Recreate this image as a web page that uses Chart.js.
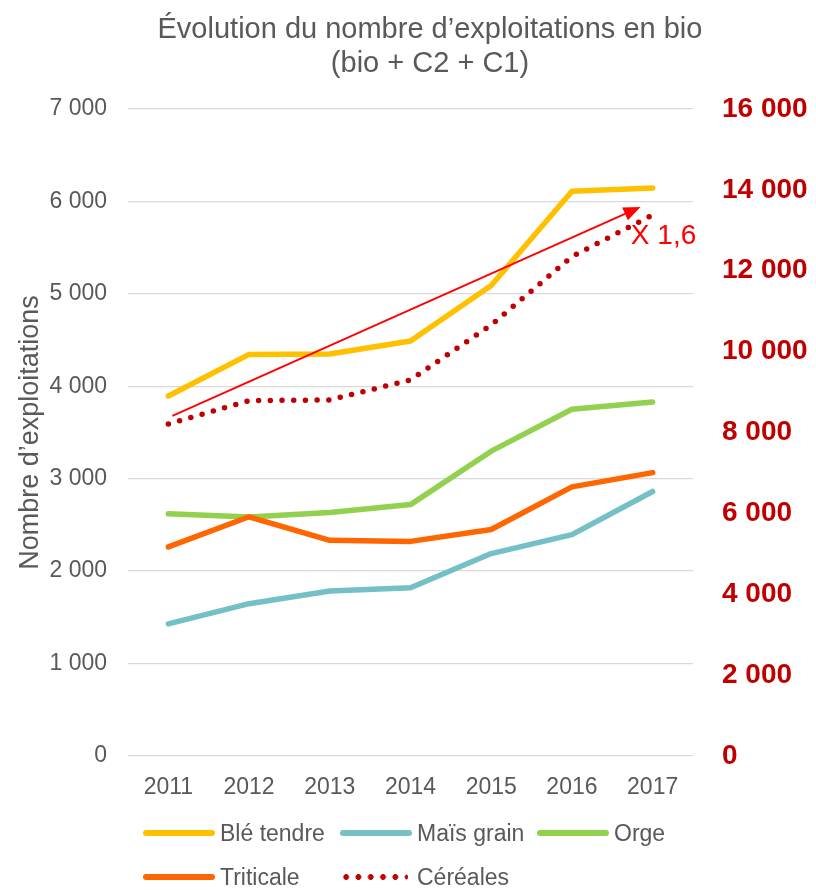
<!DOCTYPE html>
<html>
<head>
<meta charset="utf-8">
<script src="https://cdn.jsdelivr.net/npm/chart.js@4.4.1/dist/chart.umd.min.js"></script>
<style>
  html, body { margin: 0; padding: 0; background: #fff; overflow: hidden; }
  #wrap { position: relative; width: 816px; height: 890px; font-family: "Liberation Sans", Arial, sans-serif; }
  #chart { position: absolute; left: 0; top: 0; }
  #title { position: absolute; left: 30px; top: 11px; width: 800px; text-align: center;
           font-size: 29px; line-height: 34px; color: #595959; }
  #legend { position: absolute; left: 143px; top: 811px; width: 620px; display: grid;
            grid-template-columns: 197px 197px 197px; grid-auto-rows: 44px; }
  .item { display: flex; align-items: center; font-size: 23px; color: #595959; white-space: nowrap; }
  .swatch { width: 72px; height: 6px; border-radius: 3px; margin-right: 5px; flex: none; }
</style>
</head>
<body>
<div id="wrap">
  <canvas id="chart" width="816" height="890"></canvas>
  <div id="title">Évolution du nombre d’exploitations en bio<br>(bio + C2 + C1)</div>
  <div id="legend"></div>
</div>
<script>
// data
const years = ['2011', '2012', '2013', '2014', '2015', '2016', '2017'];
const bleTendre = [3895, 4345, 4350, 4490, 5090, 6110, 6145];
const maisGrain = [1430, 1648, 1785, 1820, 2190, 2395, 2862];
const orge = [2620, 2585, 2635, 2720, 3298, 3752, 3830];
const triticale = [2262, 2588, 2333, 2322, 2450, 2912, 3066];
const cereales = [8210, 8790, 8805, 9300, 10660, 12350, 13380];

const leftTicks = { min: 0, max: 7000, step: 1000 };
const rightTicks = { min: 0, max: 16000, step: 2000 };

// trend arrow (category index, left axis value)
const arrowFrom = [0.05, 3680];
const arrowTo = [5.85, 5940];
const arrowLabel = 'X 1,6';
const arrowLabelAt = [5.73, 5540];

const FONT = '"Liberation Sans", Arial, sans-serif';
const GREY = '#595959';

function spaced(v) {
    return String(v).replace(/\B(?=(\d{3})+(?!\d))/g, ' ');
}

const series = [
    { label: 'Blé tendre', data: bleTendre, color: '#FFC000', axis: 'y' },
    { label: 'Maïs grain', data: maisGrain, color: '#74C0C6', axis: 'y' },
    { label: 'Orge', data: orge, color: '#92D050', axis: 'y' },
    { label: 'Triticale', data: triticale, color: '#FF6600', axis: 'y' },
    { label: 'Céréales', data: cereales, color: '#C00000', axis: 'y2', dotted: true }
];

const arrowPlugin = {
    id: 'trendArrow',
    afterDatasetsDraw(chart) {
        const ctx = chart.ctx;
        const x = chart.scales.x, y = chart.scales.y;
        const x1 = x.getPixelForValue(arrowFrom[0]), y1 = y.getPixelForValue(arrowFrom[1]);
        const x2 = x.getPixelForValue(arrowTo[0]), y2 = y.getPixelForValue(arrowTo[1]);
        const ang = Math.atan2(y2 - y1, x2 - x1);
        const headLen = 17, headW = 7;
        ctx.save();
        ctx.strokeStyle = '#FF0000';
        ctx.fillStyle = '#FF0000';
        ctx.lineWidth = 1.8;
        ctx.beginPath();
        ctx.moveTo(x1, y1);
        ctx.lineTo(x2 - Math.cos(ang) * headLen, y2 - Math.sin(ang) * headLen);
        ctx.stroke();
        ctx.beginPath();
        ctx.moveTo(x2, y2);
        ctx.lineTo(x2 - Math.cos(ang) * headLen - Math.sin(ang) * headW, y2 - Math.sin(ang) * headLen + Math.cos(ang) * headW);
        ctx.lineTo(x2 - Math.cos(ang) * headLen + Math.sin(ang) * headW, y2 - Math.sin(ang) * headLen - Math.cos(ang) * headW);
        ctx.closePath();
        ctx.fill();
        ctx.font = '28px ' + FONT;
        ctx.textBaseline = 'alphabetic';
        ctx.textAlign = 'left';
        ctx.fillText(arrowLabel, x.getPixelForValue(arrowLabelAt[0]), y.getPixelForValue(arrowLabelAt[1]));
        ctx.restore();
    }
};

new Chart(document.getElementById('chart'), {
    type: 'line',
    data: {
        labels: years,
        datasets: series.map(function (s, i) {
            return {
                label: s.label,
                data: s.data,
                yAxisID: s.axis,
                borderColor: s.color,
                backgroundColor: s.color,
                borderWidth: 5.5,
                borderDash: s.dotted ? [0, 11.7] : [],
                borderCapStyle: 'round',
                borderJoinStyle: 'round',
                pointRadius: 0,
                tension: 0,
                fill: false,
                order: series.length - i
            };
        })
    },
    options: {
        responsive: false,
        animation: false,
        devicePixelRatio: 1,
        layout: { padding: { left: 0, right: 0, top: 109, bottom: 89 } },
        plugins: {
            legend: { display: false },
            title: { display: false },
            tooltip: { enabled: false }
        },
        scales: {
            x: {
                offset: true,
                grid: { display: false },
                border: { display: false },
                ticks: { color: GREY, font: { family: FONT, size: 23 }, padding: 10, maxRotation: 0 },
                afterFit: function (s) { s.height = 45; }
            },
            y: {
                position: 'left',
                min: leftTicks.min,
                max: leftTicks.max,
                grid: { color: '#D9D9D9', lineWidth: 1.3, drawTicks: false },
                border: { display: false },
                ticks: {
                    stepSize: leftTicks.step,
                    color: GREY,
                    font: { family: FONT, size: 23 },
                    padding: 21,
                    callback: function (v) { return spaced(v); }
                },
                title: {
                    display: true,
                    text: 'Nombre d’exploitations',
                    color: GREY,
                    font: { family: FONT, size: 27 },
                    padding: { top: 14, bottom: 0 }
                },
                afterFit: function (s) { s.width = 128; }
            },
            y2: {
                position: 'right',
                min: rightTicks.min,
                max: rightTicks.max,
                grid: { drawOnChartArea: false, drawTicks: false },
                border: { display: false },
                ticks: {
                    stepSize: rightTicks.step,
                    color: '#C00000',
                    font: { family: FONT, size: 28, weight: 'bold' },
                    padding: 29,
                    callback: function (v) { return spaced(v); }
                },
                afterFit: function (s) { s.width = 123; }
            }
        }
    },
    plugins: [arrowPlugin]
});

// legend built from the same series list
const legendBox = document.getElementById('legend');
series.forEach(function (s) {
    const item = document.createElement('div');
    item.className = 'item';
    const sw = document.createElement('span');
    sw.className = 'swatch';
    if (s.dotted) {
        sw.style.background = 'radial-gradient(circle, ' + s.color + ' 2.6px, transparent 3.2px) 0 0 / 12.3px 6px repeat-x';
        sw.style.width = '68px';
        sw.style.marginRight = '9px';
    } else {
        sw.style.background = s.color;
    }
    item.appendChild(sw);
    item.appendChild(document.createTextNode(s.label));
    legendBox.appendChild(item);
});
</script>
</body>
</html>
